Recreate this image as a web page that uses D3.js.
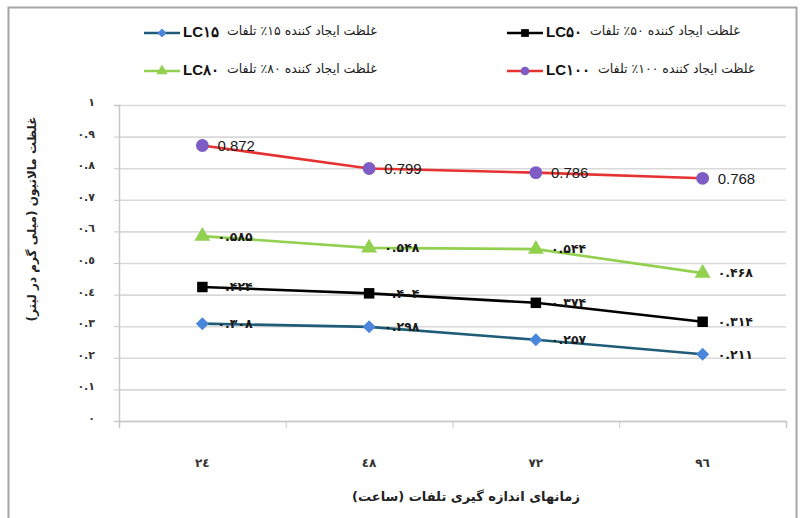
<!DOCTYPE html>
<html>
<head>
<meta charset="utf-8">
<script src="https://d3js.org/d3.v7.min.js"></script>
<style>
  body { margin: 0; background: #fff; }
  .fa { font-family: "DejaVu Sans", sans-serif; }
</style>
</head>
<body>
<div id="chart"></div>
<script>
// categories (hours) and series values
var categories = ["٢٤", "٤٨", "٧٢", "٩٦"];
var lc15 = [0.308, 0.298, 0.257, 0.211];
var lc50 = [0.424, 0.404, 0.374, 0.314];
var lc80 = [0.585, 0.548, 0.544, 0.468];
var lc100 = [0.872, 0.799, 0.786, 0.768];
var yTicks = [0, 0.1, 0.2, 0.3, 0.4, 0.5, 0.6, 0.7, 0.8, 0.9, 1];
var legendNames = ["LC۱۵", "LC۵۰", "LC۸۰", "LC۱۰۰"];
var legendTexts = ["غلظت ایجاد کننده ۱۵٪ تلفات", "غلظت ایجاد کننده ۵۰٪ تلفات",
                   "غلظت ایجاد کننده ۸۰٪ تلفات", "غلظت ایجاد کننده ۱۰۰٪ تلفات"];
var xTitle = "زمانهای اندازه گیری تلفات (ساعت)";
var yTitle = "غلظت مالاتیون (میلی گرم در لیتر)";

var W = 803, H = 518;
var plotLeft = 119, plotRight = 786, plotTop = 105, plotBottom = 421;

var svg = d3.select("#chart").append("svg")
    .attr("width", W).attr("height", H);

// outer frame
svg.append("rect")
    .attr("x", 8.5).attr("y", 7.5).attr("width", 788).attr("height", 530)
    .attr("fill", "none").attr("stroke", "#a6a6a6").attr("stroke-width", 2);

var x = d3.scaleBand().domain(categories).range([plotLeft, plotRight]);
var xEdge = d3.scaleLinear().domain([0, categories.length]).range([plotLeft, plotRight]);
var y = d3.scaleLinear().domain([0, 1]).range([plotBottom, plotTop]);

function arabicDigits(s) {
    return String(s).replace(/[0-9]/g, function (c) { return "٠١٢٣٤٥٦٧٨٩"[+c]; });
}
function persianDigits(s) {
    return String(s).replace(/[0-9]/g, function (c) { return "۰۱۲۳۴۵۶۷۸۹"[+c]; });
}

// gridlines
var grid = svg.append("g")
    .attr("transform", "translate(" + plotLeft + ",0)")
    .call(d3.axisLeft(y).tickValues(yTicks).tickSize(-(plotRight - plotLeft)).tickFormat(""));
grid.select(".domain").remove();
grid.selectAll("line").attr("stroke", "#d9d9d9").attr("stroke-width", 1.6);

// y axis with ticks and labels
var yAx = svg.append("g")
    .attr("transform", "translate(" + plotLeft + ",0)")
    .call(d3.axisLeft(y).tickValues(yTicks).tickSize(5).tickPadding(19)
        .tickFormat(function (d) { return d === 0 ? "٠" : d === 1 ? "١" : arabicDigits(d3.format(".1f")(d)); }));
yAx.select(".domain").attr("stroke", "#c8c8c8").attr("stroke-width", 1.5);
yAx.selectAll("line").attr("stroke", "#c8c8c8");
yAx.selectAll("text")
    .attr("class", "fa").attr("dy", "0.05em")
    .style("font-size", "11px").style("font-weight", "bold").attr("fill", "#333");

// x axis: boundary ticks
var xAx = svg.append("g")
    .attr("transform", "translate(0," + plotBottom + ")")
    .call(d3.axisBottom(xEdge).ticks(categories.length).tickSize(7).tickFormat(""));
xAx.select(".domain").attr("stroke", "#c8c8c8").attr("stroke-width", 1.5);
xAx.selectAll("line").attr("stroke", "#c8c8c8");

// x axis category labels
var xLab = svg.append("g")
    .attr("transform", "translate(0," + plotBottom + ")")
    .call(d3.axisBottom(x).tickSize(0).tickPadding(37));
xLab.select(".domain").remove();
xLab.selectAll("text")
    .attr("class", "fa")
    .style("font-size", "12px").style("font-weight", "bold").attr("fill", "#333");

// axis titles
svg.append("text").attr("class", "fa")
    .attr("x", 466).attr("y", 501)
    .attr("text-anchor", "middle").attr("direction", "rtl")
    .style("font-size", "13px").style("font-weight", "bold").attr("fill", "#222")
    .text(xTitle);

svg.append("text").attr("class", "fa")
    .attr("transform", "translate(36,219) rotate(-90)")
    .attr("text-anchor", "middle").attr("direction", "rtl")
    .style("font-size", "12px").style("font-weight", "bold").attr("fill", "#222")
    .text(yTitle);

// diamonds drawn as rotated squares (wider than d3.symbolDiamond)
var series = [
    { values: lc15, line: "#1f5c78", mark: "#4a86dc", shape: d3.symbolSquare, rot: 45, size: 85, persian: true },
    { values: lc50, line: "#000000", mark: "#000000", shape: d3.symbolSquare, rot: 0, size: 110, persian: true },
    { values: lc80, line: "#92d050", mark: "#92d050", shape: d3.symbolTriangle, rot: 0, size: 110, persian: true },
    { values: lc100, line: "#e63232", mark: "#7e5cc6", shape: d3.symbolCircle, rot: 0, size: 130, persian: false }
];

var line = d3.line()
    .x(function (d, i) { return x(categories[i]) + x.bandwidth() / 2; })
    .y(function (d) { return y(d); });

series.forEach(function (s) {
    svg.append("path")
        .datum(s.values)
        .attr("fill", "none")
        .attr("stroke", s.line)
        .attr("stroke-width", 2.6)
        .attr("d", line);

    svg.selectAll(null)
        .data(s.values)
        .enter().append("path")
        .attr("transform", function (d, i) {
            return "translate(" + (x(categories[i]) + x.bandwidth() / 2) + "," + y(d) + ") rotate(" + s.rot + ")";
        })
        .attr("d", d3.symbol().type(s.shape).size(s.size))
        .attr("fill", s.mark);

    svg.selectAll(null)
        .data(s.values)
        .enter().append("text")
        .attr("x", function (d, i) { return x(categories[i]) + x.bandwidth() / 2 + 15; })
        .attr("y", function (d) { return y(d); })
        .attr("dy", "0.35em")
        .attr("class", s.persian ? "fa" : null)
        .style("font-family", s.persian ? null : "Liberation Sans, Arial, sans-serif")
        .style("font-size", s.persian ? "12.5px" : "15px")
        .style("font-weight", s.persian ? "bold" : "normal")
        .attr("fill", "#1a1a1a")
        .text(function (d) {
            var t = d3.format(".3f")(d);
            return s.persian ? persianDigits(t) : t;
        });
});

// legend
var legendPos = [[144, 33], [507, 33], [144, 71], [507, 71]];
var legendMarkSize = [40, 60, 55, 60];
series.forEach(function (s, i) {
    var g = svg.append("g").attr("transform", "translate(" + legendPos[i][0] + "," + legendPos[i][1] + ")");
    g.append("line").attr("x1", 0).attr("x2", 36).attr("y1", 0).attr("y2", 0)
        .attr("stroke", s.line).attr("stroke-width", 2.6);
    g.append("path").attr("transform", "translate(18,0) rotate(" + s.rot + ")")
        .attr("d", d3.symbol().type(s.shape).size(legendMarkSize[i]))
        .attr("fill", s.mark);
    var lc = g.append("text")
        .attr("x", 39).attr("y", 4)
        .style("font-family", "Liberation Sans, Arial, sans-serif")
        .style("font-size", "15px").style("font-weight", "bold").attr("fill", "#111")
        .text(legendNames[i]);
    var w = lc.node().getComputedTextLength();
    g.append("text").attr("class", "fa")
        .attr("x", 39 + w + 8).attr("y", 2)
        .style("font-size", "12.5px").attr("fill", "#222")
        .text(legendTexts[i]);
});
</script>
</body>
</html>
